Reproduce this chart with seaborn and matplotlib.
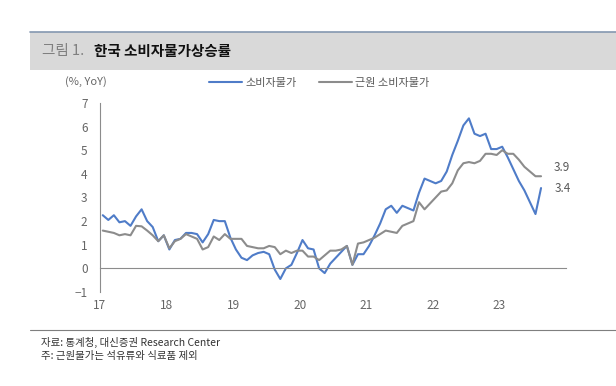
import numpy as np
import pandas as pd
import matplotlib
matplotlib.use("Agg")
import matplotlib.pyplot as plt
from matplotlib.patches import Rectangle
from matplotlib.lines import Line2D
import seaborn as sns

# monthly YoY, Jan 2017 - Aug 2023
cpi = [
    2.25, 2.05, 2.25, 1.95, 2.0, 1.8, 2.2, 2.5, 2.0, 1.75, 1.15, 1.4,
    0.8, 1.2, 1.25, 1.5, 1.5, 1.45, 1.1, 1.45, 2.05, 2.0, 2.0, 1.3,
    0.8, 0.45, 0.35, 0.55, 0.65, 0.7, 0.6, -0.05, -0.45, 0.0, 0.15, 0.65,
    1.2, 0.85, 0.8, 0.0, -0.2, 0.2, 0.45, 0.7, 0.95, 0.15, 0.6, 0.6,
    0.95, 1.4, 1.9, 2.5, 2.65, 2.35, 2.65, 2.55, 2.45, 3.2, 3.8, 3.7,
    3.6, 3.7, 4.1, 4.8, 5.4, 6.05, 6.35, 5.7, 5.6, 5.7, 5.05, 5.05,
    5.15, 4.7, 4.2, 3.7, 3.3, 2.8, 2.3, 3.4,
]
core = [
    1.6, 1.55, 1.5, 1.4, 1.45, 1.4, 1.8, 1.78, 1.6, 1.4, 1.15, 1.4,
    0.85, 1.15, 1.25, 1.45, 1.35, 1.25, 0.8, 0.9, 1.35, 1.2, 1.45, 1.25,
    1.25, 1.25, 0.95, 0.9, 0.85, 0.85, 0.95, 0.9, 0.6, 0.75, 0.65, 0.75,
    0.75, 0.5, 0.5, 0.35, 0.55, 0.75, 0.75, 0.8, 0.95, 0.15, 1.05, 1.1,
    1.2, 1.3, 1.45, 1.6, 1.55, 1.5, 1.8, 1.9, 2.0, 2.8, 2.5, 2.75,
    3.0, 3.25, 3.3, 3.6, 4.15, 4.45, 4.5, 4.45, 4.55, 4.85, 4.85, 4.8,
    5.0, 4.85, 4.85, 4.6, 4.3, 4.1, 3.9, 3.9,
]
series_names = ["소비자물가", "근원 소비자물가"]
year_labels = ["17", "18", "19", "20", "21", "22", "23", ""]
last_labels = ["3.9", "3.4"]

sns.set_style("white")
plt.rcParams["font.family"] = ["Noto Sans CJK KR", "DejaVu Sans"]
plt.rcParams["axes.unicode_minus"] = False

df = pd.DataFrame({
    "month": np.concatenate([np.arange(len(cpi)), np.arange(len(core))]) + 0.5,
    "value": cpi + core,
    "series": [series_names[0]] * len(cpi) + [series_names[1]] * len(core),
})

fig = plt.figure(figsize=(6.16, 3.86), dpi=100)
ax = fig.add_axes([100 / 616, 1 - 292 / 386, 466 / 616, 189 / 386])

palette = {series_names[0]: "#4f7cc8", series_names[1]: "#8c8c8c"}
sns.lineplot(data=df, x="month", y="value", hue="series", palette=palette,
             linewidth=1.5, ax=ax)

ax.set_xlim(0, 84)
ax.set_ylim(-1, 7)
ax.set_xlabel("")
ax.set_ylabel("")

# axes styling
for side in ["top", "right"]:
    ax.spines[side].set_visible(False)
ax.spines["left"].set_color("#8c8c8c")
ax.spines["bottom"].set_color("#8c8c8c")
ax.spines["bottom"].set_position(("data", 0))
ax.set_yticks(range(-1, 8))
ax.set_yticklabels(["−1"] + [str(v) for v in range(0, 8)])
ax.set_xticks(range(0, 85, 12))
ax.set_xticklabels(year_labels)
ax.tick_params(axis="y", direction="in", length=3, color="#8c8c8c",
               labelcolor="#666666", labelsize=8.5, pad=9)
ax.tick_params(axis="x", direction="inout", length=4, color="#8c8c8c",
               labelcolor="#666666", labelsize=8.5, pad=20)

# end labels
ax.text(81.8, 4.28, last_labels[0], fontsize=8.5, color="#595959", va="center")
ax.text(82.0, 3.39, last_labels[1], fontsize=8.5, color="#595959", va="center")

# legend at top
sns.move_legend(ax, "center left", bbox_to_anchor=(203 / 616, 1 - 83 / 386),
                bbox_transform=fig.transFigure, ncol=2, frameon=False,
                title=None, fontsize=8, handlelength=3.0, handletextpad=0.3,
                columnspacing=2.0, borderpad=0)
for t in ax.get_legend().get_texts():
    t.set_color("#595959")

fig.text(65 / 616, 1 - 82 / 386, "(%, YoY)", fontsize=8, color="#666666",
         va="center")

# title band
fig.add_artist(Rectangle((30 / 616, 1 - 70 / 386), 1 - 30 / 616, 38 / 386,
                         transform=fig.transFigure, facecolor="#d9d9d9",
                         edgecolor="none", zorder=0))
fig.add_artist(Line2D([30 / 616, 1], [1 - 32 / 386, 1 - 32 / 386],
                      transform=fig.transFigure, color="#8497b0", lw=1.2))
fig.text(42 / 616, 1 - 51 / 386, "그림 1.", fontsize=10.5, color="#7f7f7f",
         va="center")
fig.text(94 / 616, 1 - 51 / 386, "한국 소비자물가상승률", fontsize=10.5,
         fontweight="bold", color="#111111", va="center")

# footer
fig.add_artist(Line2D([30 / 616, 1], [1 - 330 / 386, 1 - 330 / 386],
                      transform=fig.transFigure, color="#7f7f7f", lw=0.8))
fig.text(41 / 616, 1 - 342 / 386, "자료: 통계청, 대신증권 Research Center",
         fontsize=7.5, color="#333333", va="center")
fig.text(41 / 616, 1 - 355.5 / 386, "주: 근원물가는 석유류와 식료품 제외",
         fontsize=7.5, color="#333333", va="center")

fig.savefig("out.png", dpi=100)
